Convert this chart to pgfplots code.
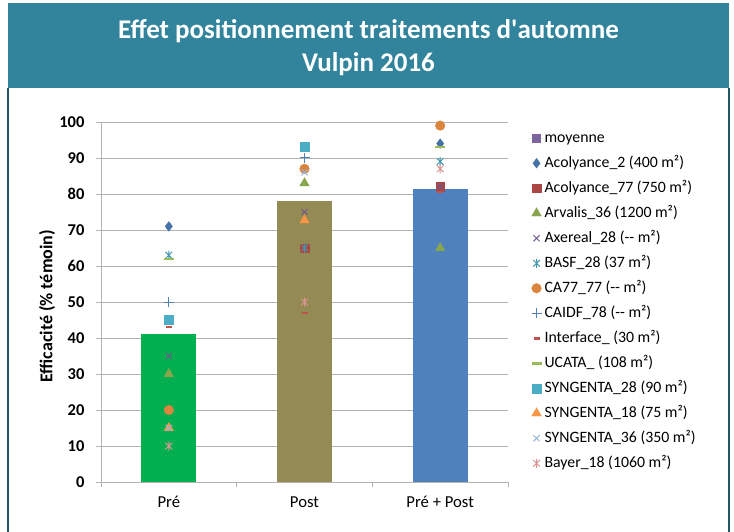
\documentclass[border=0pt]{standalone}
\usepackage{fontspec}
\setmainfont{Carlito}
\usepackage{pgfplots}
\pgfplotsset{compat=1.18}
\definecolor{banner}{HTML}{31849B}
\definecolor{border}{HTML}{215968}
\definecolor{barA}{HTML}{00B050}
\definecolor{barB}{HTML}{948A54}
\definecolor{barC}{HTML}{4F81BD}
\definecolor{cMoy}{HTML}{8064A2}
\definecolor{cAco2}{HTML}{4572A7}
\definecolor{cAco77}{HTML}{AA4643}
\definecolor{cArv}{HTML}{89A54E}
\definecolor{cAxe}{HTML}{71588F}
\definecolor{cBASF}{HTML}{4198AF}
\definecolor{cCA}{HTML}{DB843D}
\definecolor{cCAIDF}{HTML}{4F81BD}
\definecolor{cInt}{HTML}{C0504D}
\definecolor{cUCA}{HTML}{9BBB59}
\definecolor{cS28}{HTML}{4BACC6}
\definecolor{cS18}{HTML}{F79646}
\definecolor{cS36}{HTML}{95B3D7}
\definecolor{cBay}{HTML}{D99694}
\definecolor{gridc}{HTML}{B3B3B3}
\pgfdeclareplotmark{xstar}{%
  \pgfpathmoveto{\pgfqpoint{-.75\pgfplotmarksize}{-.75\pgfplotmarksize}}%
  \pgfpathlineto{\pgfqpoint{.75\pgfplotmarksize}{.75\pgfplotmarksize}}%
  \pgfpathmoveto{\pgfqpoint{-.75\pgfplotmarksize}{.75\pgfplotmarksize}}%
  \pgfpathlineto{\pgfqpoint{.75\pgfplotmarksize}{-.75\pgfplotmarksize}}%
  \pgfpathmoveto{\pgfqpoint{0pt}{-\pgfplotmarksize}}%
  \pgfpathlineto{\pgfqpoint{0pt}{\pgfplotmarksize}}%
  \pgfusepathqstroke}
\begin{document}
\begin{tikzpicture}[x=1pt,y=1pt]
\path[use as bounding box] (0pt,0pt) rectangle (734pt,531pt);
\fill[white] (0pt,0pt) rectangle (734pt,531pt);
\fill[banner] (8pt,443pt) rectangle (729pt,528pt);
\draw[border,line width=2pt] (8pt,-2pt) -- (8pt,443pt);
\draw[border,line width=2pt] (729pt,-2pt) -- (729pt,443pt);
\node[text=white,font=\fontsize{27}{30}\selectfont\bfseries] at (368.5pt,500pt) {Effet positionnement traitements d\textquotesingle automne};
\node[text=white,font=\fontsize{27}{30}\selectfont\bfseries] at (368.5pt,467pt) {Vulpin 2016};
\begin{axis}[
  at={(101pt,49pt)}, anchor=south west,
  scale only axis, width=407pt, height=360pt,
  xmin=-0.5, xmax=2.5, ymin=0, ymax=100,
  axis x line*=bottom, axis y line*=left,
  axis line style={draw=gridc, line width=0.9pt},
  xtick={0,1,2}, xticklabels={Pré,Post,Pré + Post},
  minor xtick={-0.5,0.5,1.5,2.5},
  major x tick style={draw=none},
  minor x tick style={draw=gridc, line width=0.9pt},
  minor tick length=5pt,
  ytick={0,10,...,100},
  major y tick style={draw=gridc, line width=0.9pt},
  major tick length=5pt,
  tick align=outside,
  ymajorgrids, grid style={draw=gridc, line width=0.9pt},
  /pgf/number format/assume math mode=true,
  yticklabel style={font=\fontsize{16.5}{19}\selectfont\bfseries, xshift=-8pt},
  xticklabel style={font=\fontsize{16.7}{20}\selectfont, yshift=-6pt},
  ylabel={Efficacité (\% témoin)},
  ylabel style={font=\fontsize{18}{20}\selectfont\bfseries, anchor=center, at={(axis description cs:-0.1327,0.488)}},
  legend cell align=left,
  legend style={draw=none, fill=none, at={(axis description cs:1.05,0.979)}, anchor=north west,
    font=\fontsize{15.8}{18}\selectfont, row sep=8pt, inner sep=0pt,
    nodes={inner sep=1pt, anchor=west, text height=11.5pt, text depth=3.5pt}},
  legend image code/.code={\draw[mark repeat=2,mark phase=2,#1] plot coordinates {(0pt,0pt) (8pt,0pt) (15pt,0pt)};},
]
\addplot[ybar, bar width=0.405, fill=barA, draw=none,
  legend image code/.code={\fill[cMoy] (3.5pt,-4.5pt) rectangle (12.5pt,4.5pt);\path (0pt,0pt) -- (15pt,0pt);}] coordinates {(0,41)};
\addlegendentry{moyenne}
\addplot[ybar, bar width=0.405, fill=barB, draw=none, forget plot] coordinates {(1,78)};
\addplot[ybar, bar width=0.405, fill=barC, draw=none, forget plot] coordinates {(2,81.4)};
\addplot[only marks, mark=diamond*, mark size=4.8pt, color=cAco2] coordinates {(0,71) (2,94)};
\addlegendentry{Acolyance\_2 (400 m²)}
\addplot[only marks, mark=square*, mark size=4.3pt, color=cAco77] coordinates {(1,65) (2,82)};
\addlegendentry{Acolyance\_77 (750 m²)}
\addplot[only marks, mark=triangle*, mark size=5.5pt, color=cArv] coordinates {(0,30) (1,83) (2,65)};
\addlegendentry{Arvalis\_36 (1200 m²)}
\addplot[only marks, mark=x, mark size=4.3pt, line width=1pt, color=cAxe] coordinates {(0,35) (1,75) (2,82)};
\addlegendentry{Axereal\_28 ({-}{-} m²)}
\addplot[only marks, mark=xstar, mark size=4.5pt, line width=1pt, color=cBASF] coordinates {(0,63) (1,65) (2,89)};
\addlegendentry{BASF\_28 (37 m²)}
\addplot[only marks, mark=*, mark size=4.8pt, color=cCA] coordinates {(0,20) (1,87) (2,99)};
\addlegendentry{CA77\_77 ({-}{-} m²)}
\addplot[only marks, mark=+, mark size=5pt, line width=1pt, color=cCAIDF] coordinates {(0,50) (1,90) (2,50)};
\addlegendentry{CAIDF\_78 ({-}{-} m²)}
\addplot[only marks, mark=-, mark size=3pt, line width=2.5pt, color=cInt] coordinates {(0,43) (1,47) (2,80.5)};
\addlegendentry{Interface\_ (30 m²)}
\addplot[only marks, mark=-, mark size=5pt, line width=2.5pt, color=cUCA] coordinates {(0,62) (2,93)};
\addlegendentry{UCATA\_ (108 m²)}
\addplot[only marks, mark=square*, mark size=4.5pt, color=cS28] coordinates {(0,45) (1,93)};
\addlegendentry{SYNGENTA\_28 (90 m²)}
\addplot[only marks, mark=triangle*, mark size=5.5pt, color=cS18] coordinates {(0,15) (1,72.7)};
\addlegendentry{SYNGENTA\_18 (75 m²)}
\addplot[only marks, mark=x, mark size=4.3pt, line width=1pt, color=cS36] coordinates {(0,15) (1,86)};
\addlegendentry{SYNGENTA\_36 (350 m²)}
\addplot[only marks, mark=xstar, mark size=4.5pt, line width=1pt, color=cBay] coordinates {(0,10) (1,50) (2,87)};
\addlegendentry{Bayer\_18 (1060 m²)}
\end{axis}
\end{tikzpicture}
\end{document}
